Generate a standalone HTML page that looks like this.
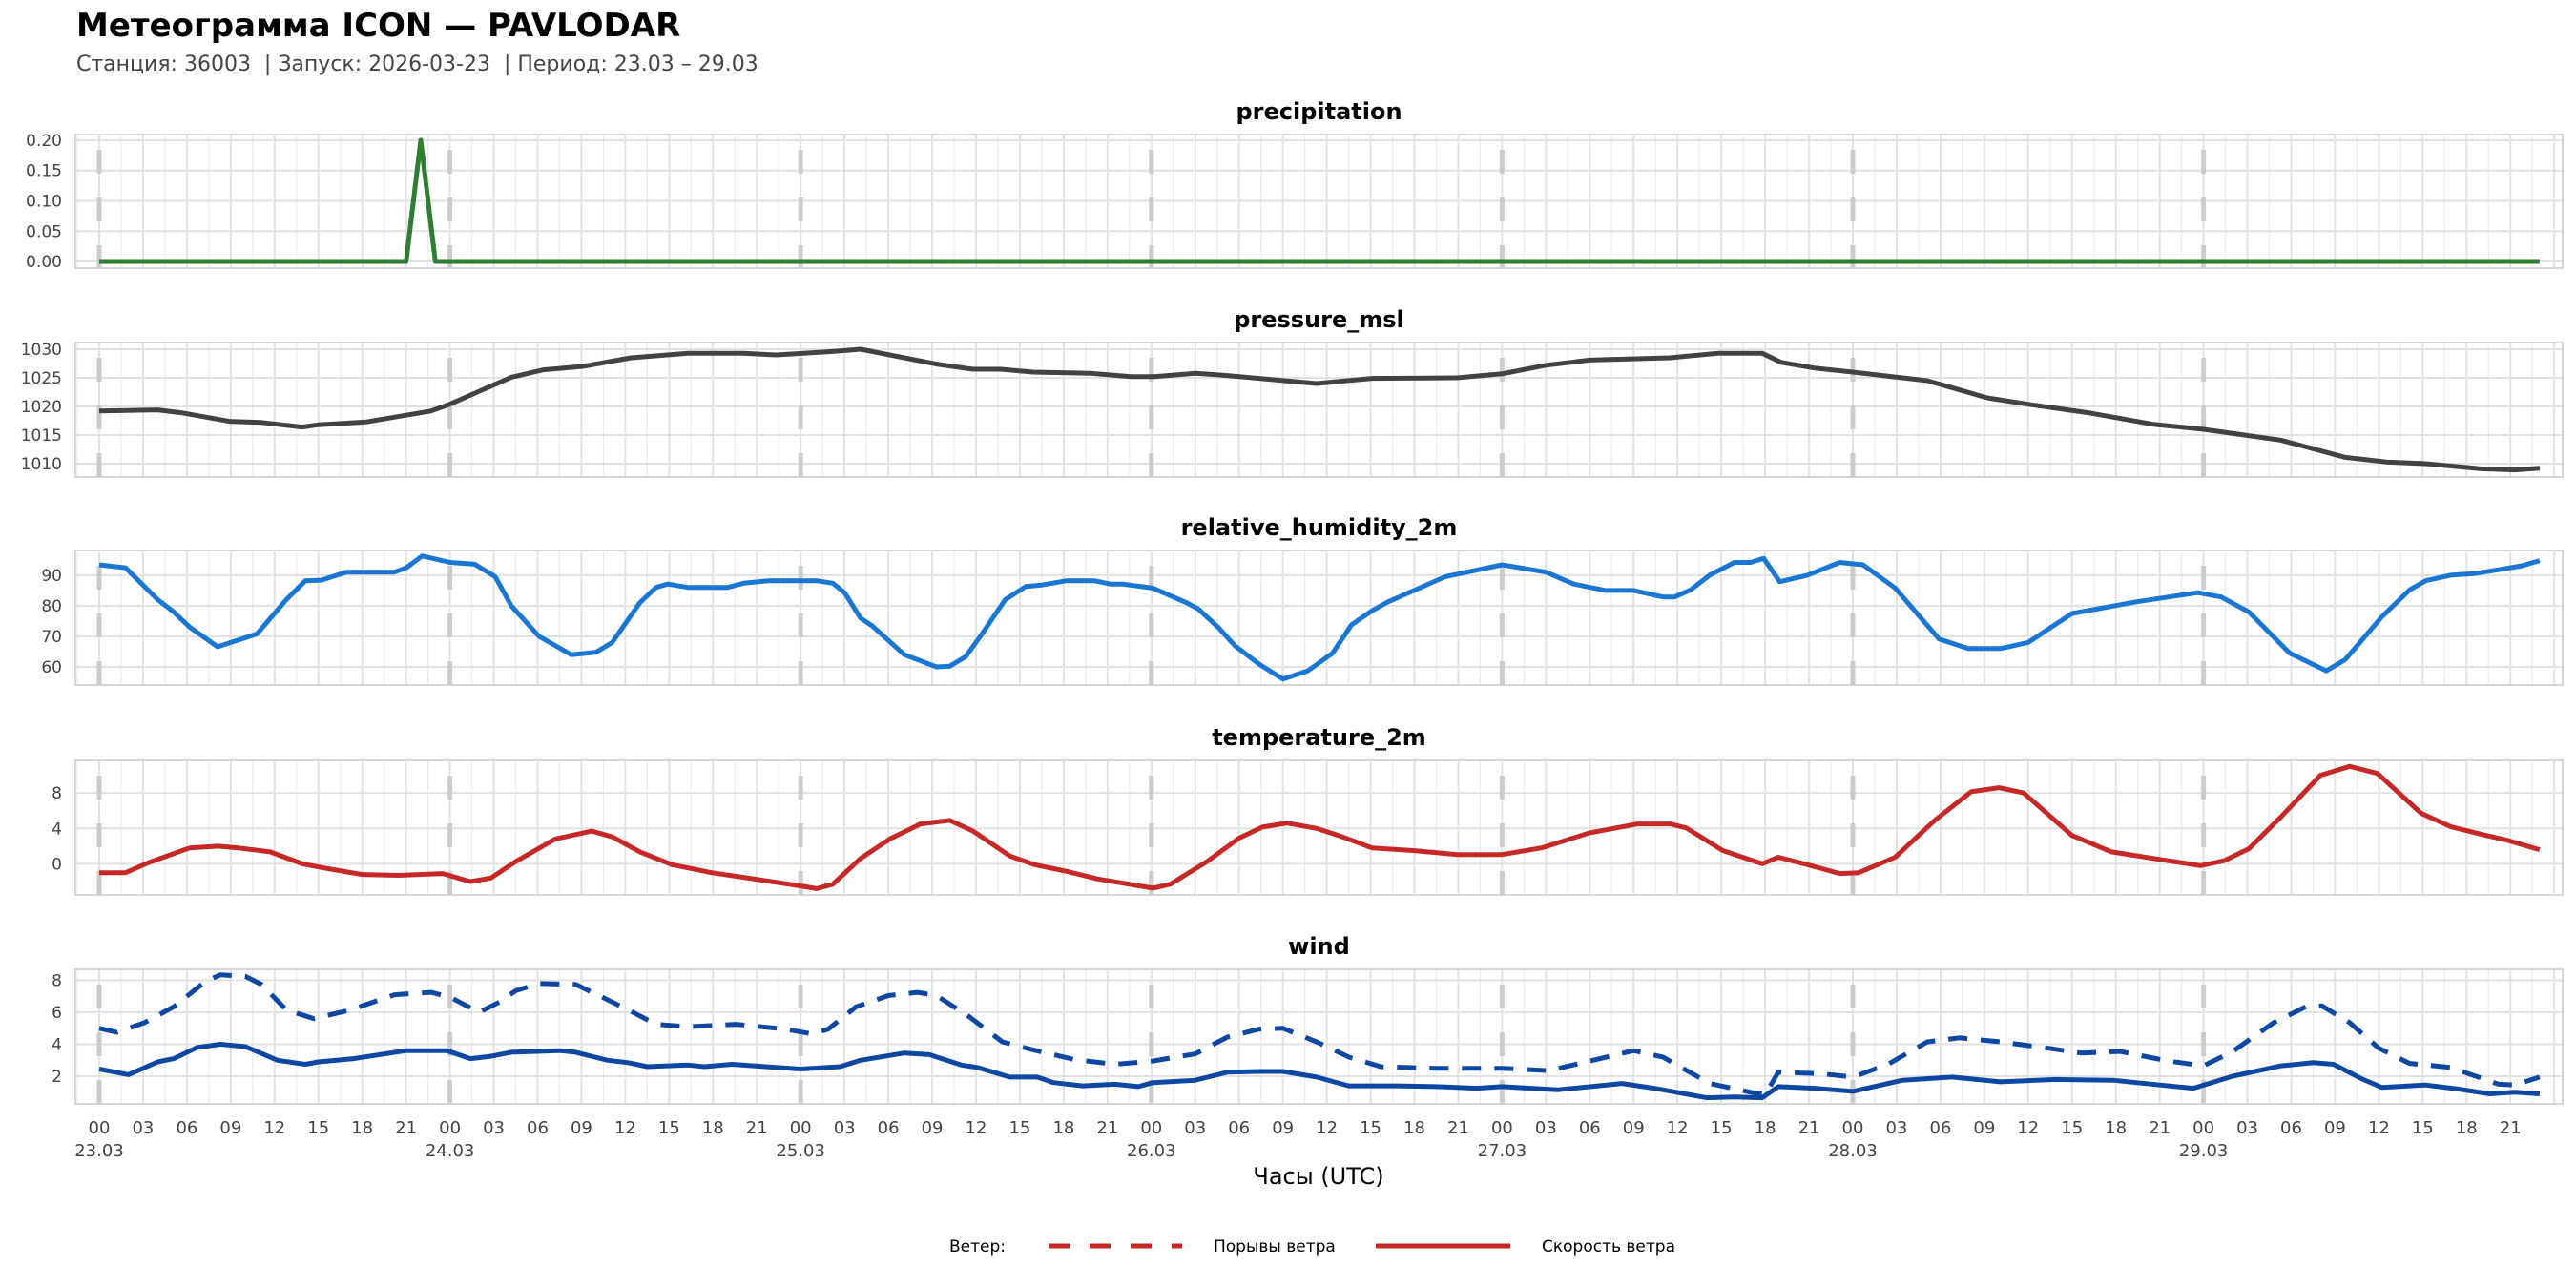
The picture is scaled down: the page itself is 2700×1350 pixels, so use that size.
<!DOCTYPE html>
<html><head><meta charset="utf-8">
<style>
html,body{margin:0;padding:0;background:#fff;}
svg{display:block;font-family:"DejaVu Sans","Liberation Sans",sans-serif;}
</style></head>
<body>
<svg id="chart" width="2700" height="1350" viewBox="0 0 2700 1350" xmlns="http://www.w3.org/2000/svg">
<rect x="0" y="0" width="2700" height="1350" fill="#fff"/>
<text x="80" y="38" font-size="34" font-weight="bold" fill="#000">Метеограмма ICON — PAVLODAR</text>
<text x="80" y="74" font-size="22" fill="#444" xml:space="preserve">Станция: 36003  | Запуск: 2026-03-23  | Период: 23.03 – 29.03</text>
<g id="panels"></g>
<text x="1382" y="1241" font-size="24" text-anchor="middle" fill="#000">Часы (UTC)</text>
<g>
<text x="995" y="1312" font-size="17" fill="#000">Ветер:</text>
<line x1="1099" y1="1306" x2="1239" y2="1306" stroke="#c62828" stroke-width="5" stroke-dasharray="22,21"/>
<text x="1272" y="1312" font-size="17" fill="#000">Порывы ветра</text>
<line x1="1442" y1="1306" x2="1583" y2="1306" stroke="#c62828" stroke-width="5"/>
<text x="1616" y="1312" font-size="17" fill="#000">Скорость ветра</text>
</g>
</svg>
<script>
// ---- data (hours since 23.03 00 UTC) ----
const precipHours = [0, 21, 22, 23, 167];
const precipValues = [0, 0, 0.2, 0, 0];

const pressureHours = [0,4,5.6,8.9,11.1,13.9,15,18.3,22.7,24,28.2,30.4,33.1,36.4,40.3,44.1,46.3,50.2,52.1,55.1,57.3,59.8,61.7,63.9,67.8,70.6,72.2,75,77.2,83.3,87.1,92.9,96,99,102,107.5,110.8,113.8,115.1,117.4,120,125.1,129.2,132.2,136.1,140.5,144,149.3,153.7,156.5,159.2,163,165.3,167];
const pressureValues = [1019.2,1019.4,1018.9,1017.4,1017.2,1016.4,1016.8,1017.3,1019.2,1020.4,1025.1,1026.4,1027,1028.5,1029.3,1029.3,1029,1029.6,1030,1028.5,1027.4,1026.5,1026.5,1026,1025.8,1025.2,1025.2,1025.8,1025.4,1024,1024.9,1025,1025.7,1027.2,1028.1,1028.5,1029.3,1029.3,1027.7,1026.7,1026,1024.5,1021.5,1020.3,1018.9,1016.9,1016,1014.1,1011.1,1010.3,1010,1009.1,1008.9,1009.2];

const humidityHours = [0,1.8,4,5.1,6.2,8.1,10.8,12.8,14.1,15.2,16.9,20.2,21,22.1,24,25.7,27.1,28.2,30.1,32.3,34,35.1,37,38.1,38.9,40.3,43,44.1,45.8,49.1,50.2,51,52.1,52.9,55.1,57.3,58.2,59.3,60.4,62,63.4,64.5,66.2,68.1,69.2,70,72.1,74.4,75.2,76.6,77.7,79.4,81,82.7,84.4,85.7,87.1,88.2,92.1,96,99,100.9,103.1,105,107,107.8,108.9,110.2,111.9,113,113.9,115,116.9,119.1,120.7,122.9,125.9,127.9,130.1,132,135,139.4,143.6,145.2,147.1,149.9,152.4,153.7,156.2,158.1,159.2,160.9,162.5,164.2,165.8,167];
const humidityValues = [93.4,92.4,82,78,73,66.6,70.8,82,88.2,88.4,91,91,92.4,96.3,94.2,93.6,89.5,80,70,64,64.8,68,81,86,87.1,86,86,87.4,88.2,88.2,87.4,84.3,76,73.4,64,60,60.2,63.4,70.7,82,86.3,86.8,88.2,88.2,87.1,87.1,85.8,81,79,72.8,67,60.8,56,58.7,64.5,73.8,78.4,81.3,89.5,93.4,91,87.1,85,85,82.9,82.9,85.2,90,94.2,94.2,95.5,87.9,90,94.2,93.4,85.8,69.1,66,66,68,77.5,81.3,84.3,82.9,78,64.5,58.7,62.4,76.4,85.2,88.2,90,90.5,91.8,93.1,94.8];

const temperatureHours = [0,1.8,3.4,6.2,8.1,9.5,11.7,13.9,15.5,18,20.5,23.5,25.4,26.8,28.5,31.2,33.7,35.1,37,39.2,41.9,45,48,49.1,50.2,52.1,54.1,56.2,58.2,59.8,62.3,64,66.2,68.3,72.1,73.3,75.8,78,79.6,81.3,83.3,84.9,87.1,89.9,92.9,96,98.7,102,105.3,107.5,108.6,111.1,113.8,114.9,116.9,119.1,120.4,122.9,125.6,128.1,130,131.7,135,137.7,141,143.8,145.4,147.1,149.3,152,154,155.9,158.9,160.9,163.1,164.7,167];
const temperatureValues = [-1.0,-1.0,0.15,1.8,2.0,1.8,1.35,0,-0.5,-1.2,-1.3,-1.1,-2.0,-1.6,0.25,2.8,3.7,3.05,1.35,-0.1,-1.0,-1.75,-2.5,-2.8,-2.3,0.6,2.8,4.5,4.9,3.7,0.9,-0.1,-0.85,-1.7,-2.75,-2.3,0.25,2.9,4.15,4.6,4.0,3.15,1.8,1.5,1.05,1.05,1.8,3.5,4.5,4.5,4.05,1.5,0,0.75,-0.1,-1.1,-1.0,0.75,4.9,8.15,8.6,8.0,3.2,1.35,0.5,-0.2,0.35,1.7,5.3,10,11,10.2,5.7,4.2,3.3,2.7,1.6];

const windHours = [0,2,4,5.1,6.7,8.3,10,12.2,14.1,15,17.4,21,23.8,25.4,26.8,28.2,31.5,32.6,34.8,36.2,37.5,40.3,41.4,43.3,46.3,48,50.7,52.1,55.1,56.8,59,60.1,62.3,64.2,65.3,67.3,69.5,71.1,72.1,75,77.2,79.4,81,83.3,85.5,88.8,91.5,94.3,96,99.8,104.2,106.4,110,111.9,113.8,114.9,117.4,120,123.4,126.8,130.1,133.9,137.8,141,143.3,146,149.3,151.5,152.9,154.8,156.2,159.2,161.4,163.6,165.3,167];
const windSpeedValues = [2.45,2.1,2.9,3.1,3.8,4.0,3.85,3.0,2.75,2.9,3.1,3.6,3.6,3.1,3.25,3.5,3.6,3.5,3.0,2.85,2.6,2.7,2.6,2.75,2.55,2.45,2.6,3.0,3.45,3.35,2.7,2.55,1.95,1.95,1.6,1.4,1.5,1.35,1.6,1.75,2.25,2.3,2.3,1.95,1.4,1.4,1.35,1.25,1.35,1.15,1.55,1.25,0.65,0.7,0.65,1.35,1.25,1.05,1.75,1.95,1.65,1.8,1.75,1.45,1.25,2.0,2.65,2.85,2.75,1.85,1.3,1.45,1.2,0.9,1.0,0.9];

const gustHours = [0,1.2,3.1,5.1,7.3,8.3,10,11.1,12.8,14.7,17.2,20.2,22.7,24,26,27.4,28.5,30.1,32.6,34.2,36.2,38.1,40.3,43.6,46.9,48.8,49.9,51.8,54,56,57.3,59.5,61.8,63.9,66.7,69.5,72.1,75,77.2,79.4,81,83.3,85.5,87.7,91.5,96,99.2,102,105,107,110.2,113,114,114.9,117.9,120,122.4,125.1,127.3,130.1,133.4,135.6,138.3,141.6,144,146,148.8,151,152.1,154,156,158.1,160.9,164.2,165.3,167];
const gustValues = [5.0,4.75,5.35,6.35,7.95,8.35,8.25,7.75,6.15,5.6,6.15,7.1,7.25,6.95,6.0,6.65,7.35,7.8,7.75,7.05,6.15,5.25,5.1,5.25,4.95,4.65,4.95,6.35,7.05,7.25,7.05,5.75,4.15,3.65,3.05,2.75,2.95,3.4,4.45,4.95,5.0,4.15,3.2,2.6,2.5,2.5,2.35,2.95,3.6,3.2,1.55,1.0,0.85,2.25,2.15,1.95,2.75,4.15,4.4,4.15,3.75,3.45,3.55,2.95,2.65,3.55,5.35,6.35,6.4,5.35,3.75,2.8,2.55,1.5,1.45,1.95];

const dayLabels = ['23.03','24.03','25.03','26.03','27.03','28.03','29.03'];
const hourLabels = ['00','03','06','09','12','15','18','21'];
const precipTicks = [0,0.05,0.10,0.15,0.20];
const pressureTicks = [1010,1015,1020,1025,1030];
const humidityTicks = [60,70,80,90];
const temperatureTicks = [0,4,8];
const windTicks = [2,4,6,8];

// ---- layout ----
const NS = 'http://www.w3.org/2000/svg';
const FL = 79, FR = 2686;
const X0 = 104, PXH = 367.6/24;
function xScale(h){ return X0 + h*PXH; }
function mk(tag, attrs, parent){
  const e = document.createElementNS(NS, tag);
  for (const k in attrs) e.setAttribute(k, attrs[k]);
  if (parent) parent.appendChild(e);
  return e;
}
const root = document.getElementById('panels');

const panels = [
  {name:'precipitation', top:141, bottom:281, ymin:-0.011, ymax:0.2094, ticks:precipTicks, fmt:v=>v.toFixed(2),
   series:[{h:precipHours, v:precipValues, color:'#2e7d32', dash:null, key:'precipitation-line'}]},
  {name:'pressure_msl', top:359, bottom:500, ymin:1007.67, ymax:1031.17, ticks:pressureTicks, fmt:v=>String(v),
   series:[{h:pressureHours, v:pressureValues, color:'#424242', dash:null, key:'pressure-line'}]},
  {name:'relative_humidity_2m', top:577, bottom:718, ymin:54.06, ymax:98.1, ticks:humidityTicks, fmt:v=>String(v),
   series:[{h:humidityHours, v:humidityValues, color:'#1976d2', dash:null, key:'humidity-line'}]},
  {name:'temperature_2m', top:797, bottom:938, ymin:-3.51, ymax:11.68, ticks:temperatureTicks, fmt:v=>String(v),
   series:[{h:temperatureHours, v:temperatureValues, color:'#c62828', dash:null, key:'temperature-line'}]},
  {name:'wind', top:1016, bottom:1157, ymin:0.27, ymax:8.69, ticks:windTicks, fmt:v=>String(v),
   series:[{h:gustHours, v:gustValues, color:'#0d47a1', dash:'20,14', key:'wind-gust-line'},
           {h:windHours, v:windSpeedValues, color:'#0d47a1', dash:null, key:'wind-speed-line'}]}
];

panels.forEach(p => {
  const g = mk('g', {}, root);
  
  
  const yS = v => p.bottom - (v - p.ymin) / (p.ymax - p.ymin) * (p.bottom - p.top);
  const t = mk('text', {x:(FL+FR)/2, y:p.top-16, 'font-size':24, 'font-weight':'bold', 'text-anchor':'middle', fill:'#000'}, g);
  t.textContent = p.name;
  
  
  for (let h = -1.5; h <= 169; h += 1.5) {
    const x = xScale(h);
    if (x < FL || x > FR) continue;
    const major = Math.abs(h/3 - Math.round(h/3)) < 1e-6;
    mk('line', {x1:x, x2:x, y1:p.top, y2:p.bottom, stroke: major ? '#e2e2e2' : '#ececec', 'stroke-width': major ? 2 : 1.2}, g);
  }
  p.ticks.forEach(v => {
    const y = yS(v);
    mk('line', {x1:FL, x2:FR, y1:y, y2:y, stroke:'#e2e2e2', 'stroke-width':2}, g);
    const lb = mk('text', {x:FL-14, y:y+6, 'font-size':17, 'text-anchor':'end', fill:'#444'}, g);
    lb.textContent = p.fmt(v);
    
    
  });
  const fr = mk('rect', {x:FL, y:p.top, width:FR-FL, height:p.bottom-p.top, fill:'none', stroke:'#d6d6d6', 'stroke-width':2}, g);
  
  
  dayLabels.forEach((d, i) => {
    const x = xScale(i*24);
    const dl = mk('line', {x1:x, x2:x, y1:p.top, y2:p.bottom, stroke:'#cccccc', 'stroke-width':5, 'stroke-dasharray':'25,25', 'stroke-dashoffset':34}, g);
    
    
  });
  p.series.forEach(s => {
    const pts = s.h.map((h, i) => xScale(h).toFixed(1) + ',' + yS(s.v[i]).toFixed(1)).join(' ');
    const attrs = {points:pts, fill:'none', stroke:s.color, 'stroke-width':5, 'stroke-linejoin':'round'};
    if (s.dash) attrs['stroke-dasharray'] = s.dash;
    const pl = mk('polyline', attrs, g);
    
    
  });
});

const xg = mk('g', {}, root);


dayLabels.forEach((d, di) => {
  hourLabels.forEach((hl, hi) => {
    const h = di*24 + hi*3;
    const t = mk('text', {x:xScale(h), y:1188, 'font-size':18, 'text-anchor':'middle', fill:'#444'}, xg);
    t.textContent = hl;
    
    
  });
  const dt = mk('text', {x:xScale(di*24), y:1212, 'font-size':18, 'text-anchor':'middle', fill:'#444'}, xg);
  dt.textContent = d;
  
  
});
</script>
</body></html>
